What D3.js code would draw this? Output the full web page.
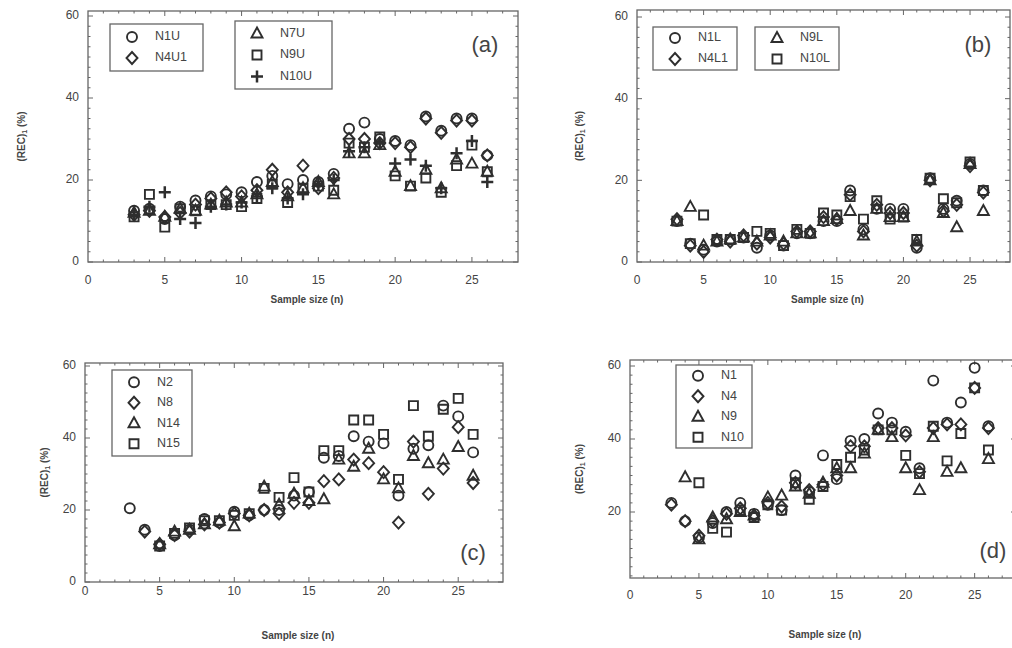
<!DOCTYPE html>
<html>
<head>
<meta charset="utf-8">
<script src="https://cdn.jsdelivr.net/npm/d3@7"></script>
<style>
  html, body { margin: 0; padding: 0; background: #fff; }
  svg { display: block; }
  text { font-family: "Liberation Sans", Arial, sans-serif; fill: #444; }
</style>
</head>
<body>
<svg id="chart" width="1012" height="648"></svg>
<script>
// ---------------- DATA ----------------
const sampleSize = [3,4,5,6,7,8,9,10,11,12,13,14,15,16,17,18,19,20,21,22,23,24,25,26];
const xTickLabels = [0,5,10,15,20,25];
const yTickLabels = [0,20,40,60];
const yTickLabelsD = [20,40,60];

// panel (a)
const aN1U  = [12.5,13,10.5,13.5,15,16,16.5,17,19.5,21,19,20,19.5,21.5,32.5,34,30,29.5,28.5,35.5,32,35,35,26];
const aN4U1 = [11.5,12.5,11,12,14,15.5,17,16,17.5,22.5,17,23.5,18,20.5,30,30,29,29,28,35,31.5,34.5,34.5,26];
const aN7U  = [12,12.5,11,13,12.5,14,14.5,14.5,16.5,19.5,16,18,19.5,16.5,26.5,26.5,28.5,22,18.5,22.5,18,25,24,22];
const aN9U  = [11,16.5,8.5,13,12.5,14,14,13.5,15.5,19,14.5,18,18.5,17.5,29,28,30.5,21,18.5,20.5,17,23.5,28.5,22];
const aN10U = [11.5,13.5,17,10.5,9.5,13.5,14,14.5,16,18,15.5,16.5,19,20,27,28,29,24,25,23.5,18,26.5,29.5,19.5];

// panel (b)
const bN1L  = [10,4.5,3,5,5.5,6,3.5,6.5,4,7,7,10,10,17.5,8,13,13,13,3.5,20.5,13,15,24,17.5];
const bN4L1 = [10.5,4,2.5,5.5,5,6.5,4.5,6,4.5,7.5,7.5,11,10.5,16.5,7.5,14,12,12,4,20,12.5,14,23.5,17];
const bN9L  = [10,13.5,4,5,5.5,6,5,6.5,5,7,7,10,10.5,12.5,6.5,13,11,11,5,20,12,8.5,24,12.5];
const bN10L = [10,4.5,11.5,5.5,5.5,6,7.5,7,4,8,7,12,11.5,16,10.5,15,10.5,11,5.5,20.5,15.5,14.5,24.5,17.5];

// panel (c)
const cN2  = [20.5,14.5,10,13,14.5,17.5,16.5,19.5,18.5,20,20,24,25,34.5,35,40.5,39,38.5,24,37,38,49,46,36];
const cN8  = [null,14,10.5,13,14,16,16.5,19,18.5,20,19,22,22,28,28.5,34,33,30.5,16.5,39,24.5,31.5,43,27.5];
const cN14 = [null,null,10.5,14,14.5,16,17,15.5,19,26.5,21.5,24.5,22.5,23,34,32,37,28.5,26,35,33,34,37.5,29.5];
const cN15 = [null,null,10,13.5,15,17,17,18.5,19,26,23.5,29,25,36.5,36.5,45,45,41,28.5,49,40.5,48,51,41];

// panel (d)
const dN1  = [22.5,17.5,13,17,20,22.5,19.5,22,20.5,30,25.5,35.5,29,39.5,40,47,44.5,42,32,56,44.5,50,59.5,43.5];
const dN4  = [22,17.5,13.5,17.5,19.5,21,19,22.5,21.5,28,26,27.5,30,38,38,43,43,41,31,43,44,44,54,43];
const dN9  = [null,29.5,12.5,18.5,18,20,19,24,24.5,27,25,28,32,32,36,42.5,40.5,32,26,40.5,31,32,null,34.5];
const dN10 = [null,null,28,15.5,14.5,20.5,18.5,22,20.5,28,23.5,27,33,35,37,42.5,42.5,35.5,30.5,43.5,34,41.5,54,37];

// ---------------- LAYOUT ----------------
const panels = [
  { tag: "(a)", left: 88, right: 518, top: 11, bottom: 262, y0: 262, y60: 16,
    yTicks: yTickLabels, xLabelY: 281, yTitleX: 22, xTitleY: 300,
    tagPos: [485, 52],
    series: [
      {name: "N1U",  shape: "circle",   values: aN1U},
      {name: "N4U1", shape: "diamond",  values: aN4U1},
      {name: "N7U",  shape: "triangle", values: aN7U},
      {name: "N9U",  shape: "square",   values: aN9U},
      {name: "N10U", shape: "plus",     values: aN10U}
    ],
    legends: [
      {x: 110, y: 24, w: 93, h: 47, items: ["N1U","N4U1"]},
      {x: 235, y: 21, w: 97, h: 68, items: ["N7U","N9U","N10U"]}
    ]
  },
  { tag: "(b)", left: 637, right: 1010, top: 10, bottom: 262, y0: 262, y60: 17,
    yTicks: yTickLabels, xLabelY: 281, yTitleX: 580, xTitleY: 300,
    tagPos: [978, 52],
    series: [
      {name: "N1L",  shape: "circle",   values: bN1L},
      {name: "N4L1", shape: "diamond",  values: bN4L1},
      {name: "N9L",  shape: "triangle", values: bN9L},
      {name: "N10L", shape: "square",   values: bN10L}
    ],
    legends: [
      {x: 653, y: 27, w: 84, h: 43, items: ["N1L","N4L1"]},
      {x: 755, y: 27, w: 84, h: 43, items: ["N9L","N10L"]}
    ]
  },
  { tag: "(c)", left: 85, right: 503, top: 363, bottom: 582, y0: 582, y60: 366,
    yTicks: yTickLabels, xLabelY: 592, yTitleX: 45, xTitleY: 636,
    tagPos: [473, 560],
    series: [
      {name: "N2",  shape: "circle",   values: cN2},
      {name: "N8",  shape: "diamond",  values: cN8},
      {name: "N14", shape: "triangle", values: cN14},
      {name: "N15", shape: "square",   values: cN15}
    ],
    legends: [
      {x: 112, y: 370, w: 80, h: 86, items: ["N2","N8","N14","N15"]}
    ]
  },
  { tag: "(d)", left: 630, right: 1016, top: 360, bottom: 578, y0: 585, y60: 366,
    yTicks: yTickLabelsD, xLabelY: 596, yTitleX: 580, xTitleY: 635,
    tagPos: [993, 558],
    series: [
      {name: "N1",  shape: "circle",   values: dN1},
      {name: "N4",  shape: "diamond",  values: dN4},
      {name: "N9",  shape: "triangle", values: dN9},
      {name: "N10", shape: "square",   values: dN10}
    ],
    legends: [
      {x: 676, y: 365, w: 76, h: 83, items: ["N1","N4","N9","N10"]}
    ]
  }
];

// ---------------- DRAW ----------------
const svg = d3.select("#chart");
const frameColor = "#666";
const markColor = "#2e2e2e";

function shapePath(shape) {
  const p = d3.path();
  if (shape === "circle") {
    p.moveTo(5, 0); p.arc(0, 0, 5, 0, Math.PI * 2);
  } else if (shape === "diamond") {
    p.moveTo(0, -6); p.lineTo(5.5, 0); p.lineTo(0, 6); p.lineTo(-5.5, 0); p.closePath();
  } else if (shape === "triangle") {
    p.moveTo(0, -6); p.lineTo(5.5, 4); p.lineTo(-5.5, 4); p.closePath();
  } else if (shape === "square") {
    p.rect(-4.5, -4.5, 9, 9);
  } else if (shape === "plus") {
    p.moveTo(-6, 0); p.lineTo(6, 0); p.moveTo(0, -6); p.lineTo(0, 6);
  }
  return p.toString();
}

function drawMark(g, shape, x, y) {
  g.append("path")
    .attr("d", shapePath(shape))
    .attr("transform", `translate(${x},${y})`)
    .attr("fill", "none")
    .attr("stroke", markColor)
    .attr("stroke-width", shape === "plus" ? 2.5 : 1.9);
}

panels.forEach((P, i) => {
  const g = svg.append("g");
  const x = d3.scaleLinear().domain([0, 28]).range([P.left, P.right]);
  const y = d3.scaleLinear().domain([0, 60]).range([P.y0, P.y60]);

  const clipId = "clip" + i;
  svg.append("clipPath").attr("id", clipId)
    .append("rect").attr("x", P.left - 8).attr("y", P.top - 8)
    .attr("width", P.right - P.left + 16).attr("height", P.bottom - P.top + 16);

  // frame
  g.append("rect")
    .attr("x", P.left).attr("y", P.top)
    .attr("width", P.right - P.left).attr("height", P.bottom - P.top)
    .attr("fill", "none").attr("stroke", frameColor).attr("stroke-width", 1.3);

  // x ticks (bottom and top, inward)
  d3.range(1, 28).forEach(v => {
    const len = (v % 5 === 0) ? 5 : 2.5;
    g.append("line").attr("x1", x(v)).attr("x2", x(v))
      .attr("y1", P.bottom).attr("y2", P.bottom - len)
      .attr("stroke", frameColor).attr("stroke-width", 1);
    g.append("line").attr("x1", x(v)).attr("x2", x(v))
      .attr("y1", P.top).attr("y2", P.top + len)
      .attr("stroke", frameColor).attr("stroke-width", 1);
  });
  // y ticks
  d3.range(0, 61, 2.5).filter(v => y(v) <= P.bottom && y(v) >= P.top).forEach(v => {
    const len = (v % 20 === 0) ? 5 : 2.5;
    g.append("line").attr("x1", P.left).attr("x2", P.left + len)
      .attr("y1", y(v)).attr("y2", y(v))
      .attr("stroke", frameColor).attr("stroke-width", 1);
    g.append("line").attr("x1", P.right).attr("x2", P.right - len)
      .attr("y1", y(v)).attr("y2", y(v))
      .attr("stroke", frameColor).attr("stroke-width", 1);
  });

  // tick labels
  xTickLabels.forEach(v => {
    g.append("text").attr("x", x(v)).attr("y", P.xLabelY)
      .attr("text-anchor", "middle").attr("dominant-baseline", "middle")
      .attr("font-size", 12).text(v);
  });
  P.yTicks.forEach(v => {
    g.append("text").attr("x", P.left - 9).attr("y", y(v))
      .attr("text-anchor", "end").attr("dominant-baseline", "middle")
      .attr("font-size", 12).text(v);
  });

  // axis titles
  g.append("text")
    .attr("x", (P.left + Math.min(P.right, 1012)) / 2 + 4).attr("y", P.xTitleY)
    .attr("text-anchor", "middle").attr("dominant-baseline", "middle")
    .attr("font-size", 10).attr("font-weight", "bold")
    .text("Sample size (n)");
  const yt = g.append("text")
    .attr("transform", `translate(${P.yTitleX},${(P.top + P.bottom) / 2}) rotate(-90)`)
    .attr("text-anchor", "middle").attr("dominant-baseline", "middle")
    .attr("font-size", 10).attr("font-weight", "bold");
  yt.append("tspan").text("(REC)");
  yt.append("tspan").attr("font-size", 7).attr("dy", 3).text("1");
  yt.append("tspan").attr("dy", -3).text(" (%)");

  // panel tag
  g.append("text").attr("x", P.tagPos[0]).attr("y", P.tagPos[1])
    .attr("text-anchor", "middle").attr("font-size", 22).attr("fill", "#333")
    .text(P.tag);

  // marks
  const mg = g.append("g").attr("clip-path", `url(#${clipId})`);
  P.series.forEach(s => {
    s.values.forEach((v, k) => {
      if (v === null) return;
      drawMark(mg, s.shape, x(sampleSize[k]), y(v));
    });
  });

  // legends
  const shapeOf = {};
  P.series.forEach(s => shapeOf[s.name] = s.shape);
  P.legends.forEach(L => {
    g.append("rect").attr("x", L.x).attr("y", L.y).attr("width", L.w).attr("height", L.h)
      .attr("fill", "#fff").attr("stroke", frameColor).attr("stroke-width", 1.3);
    const step = L.items.length === 2 ? 21 : (L.items.length === 3 ? 21.5 : 20.5);
    const startY = L.y + (L.h - step * (L.items.length - 1)) / 2;
    L.items.forEach((name, k) => {
      const cy = startY + k * step;
      drawMark(g, shapeOf[name], L.x + 22, cy);
      g.append("text").attr("x", L.x + 45).attr("y", cy)
        .attr("dominant-baseline", "middle").attr("font-size", 12.5)
        .text(name);
    });
  });
});
</script>
</body>
</html>
